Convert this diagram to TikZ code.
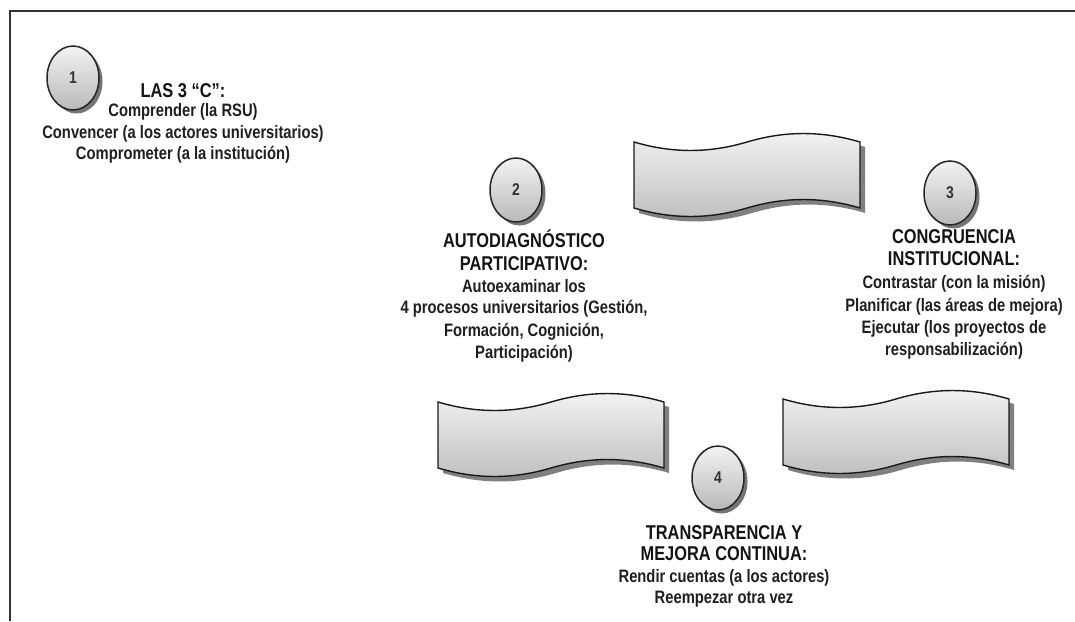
\documentclass[tikz,border=0pt]{standalone}
\usepackage{fontspec}
\setmainfont[FakeStretch=0.82]{Liberation Sans}
\usetikzlibrary{shapes.geometric,shadows}
\tikzset{
  tapeshadow/.style={fill=black!50},
  tapebody/.style={draw=black!90, line width=1.4pt, top color=gray!10, bottom color=gray!50},
  tape/.pic={
    \path[tapeshadow, shift={(5,5)}] (0,0) .. controls (38,11.3) and (75,11.3) .. (113,0) .. controls (151,-11.3) and (188,-11.3) .. (226,0) -- (226,66) .. controls (188,54.7) and (151,54.7) .. (113,66) .. controls (75,77.3) and (38,77.3) .. (0,66) -- cycle;
    \path[tapebody] (0,0) .. controls (38,11.3) and (75,11.3) .. (113,0) .. controls (151,-11.3) and (188,-11.3) .. (226,0) -- (226,66) .. controls (188,54.7) and (151,54.7) .. (113,66) .. controls (75,77.3) and (38,77.3) .. (0,66) -- cycle;
  }
}
\begin{document}
\begin{tikzpicture}[x=1pt,y=-1pt,
  num/.style={ellipse, draw=black!85, line width=1.5pt, minimum width=52pt, minimum height=64pt, inner sep=0pt,
    top color=gray!10, bottom color=gray!55, font=\fontsize{17}{17}\selectfont\bfseries, text=black!80,
    drop shadow={shadow xshift=3.5pt, shadow yshift=-3.5pt, fill=black!60, opacity=0.9}},
  head/.style={font=\fontsize{20}{20}\selectfont\bfseries, text=black!92, anchor=base, inner sep=0pt},
  body/.style={font=\fontsize{18}{18}\selectfont\bfseries, text=black!88, anchor=base, inner sep=0pt},
  frame/.style={line width=1.8pt, draw=black!80}
]
\useasboundingbox (0,0) rectangle (1075,621);
\fill[white] (0,0) rectangle (1075,621);

% frame
\coordinate (fbl) at (10,621);
\coordinate (ftl) at (10,11);
\coordinate (ftr) at (1075,11);
\draw[frame] (fbl) -- (ftl) -- (ftr);

% tapes
\pic at (634,142) {tape};
\pic at (438,402) {tape};
\pic at (783,399) {tape};

% circles
\node[num] (c1) at (73,78) {1};
\node[num] (c2) at (516,190) {2};
\node[num] (c3) at (950,193) {3};
\node[num] (c4) at (718,478) {4};

% text 1
\node[head] (t1a) at (183,97) {LAS 3 “C”:};
\node[body] (t1b) at (183,116.5) {Comprender (la RSU)};
\node[body] (t1c) at (183,138.5) {Convencer (a los actores universitarios)};
\node[body] (t1d) at (183,159.5) {Comprometer (a la institución)};

% text 2
\node[head] (t2a) at (524,247) {AUTODIAGNÓSTICO};
\node[head] (t2b) at (524,270) {PARTICIPATIVO:};
\node[body] (t2c) at (524,292.5) {Autoexaminar los};
\node[body] (t2d) at (524,313.5) {4 procesos universitarios (Gestión,};
\node[body] (t2e) at (524,336.5) {Formación, Cognición,};
\node[body] (t2f) at (524,358.5) {Participación)};

% text 3
\node[head] (t3a) at (954,243) {CONGRUENCIA};
\node[head] (t3b) at (954,265) {INSTITUCIONAL:};
\node[body] (t3c) at (954,288.5) {Contrastar (con la misión)};
\node[body] (t3d) at (954,311.5) {Planificar (las áreas de mejora)};
\node[body] (t3e) at (954,333.5) {Ejecutar (los proyectos de};
\node[body] (t3f) at (954,355.5) {responsabilización)};

% text 4
\node[head] (t4a) at (724,539) {TRANSPARENCIA Y};
\node[head] (t4b) at (724,560) {MEJORA CONTINUA:};
\node[body] (t4c) at (724,582.5) {Rendir cuentas (a los actores)};
\node[body] (t4d) at (724,603.5) {Reempezar otra vez};
\end{tikzpicture}
\end{document}
